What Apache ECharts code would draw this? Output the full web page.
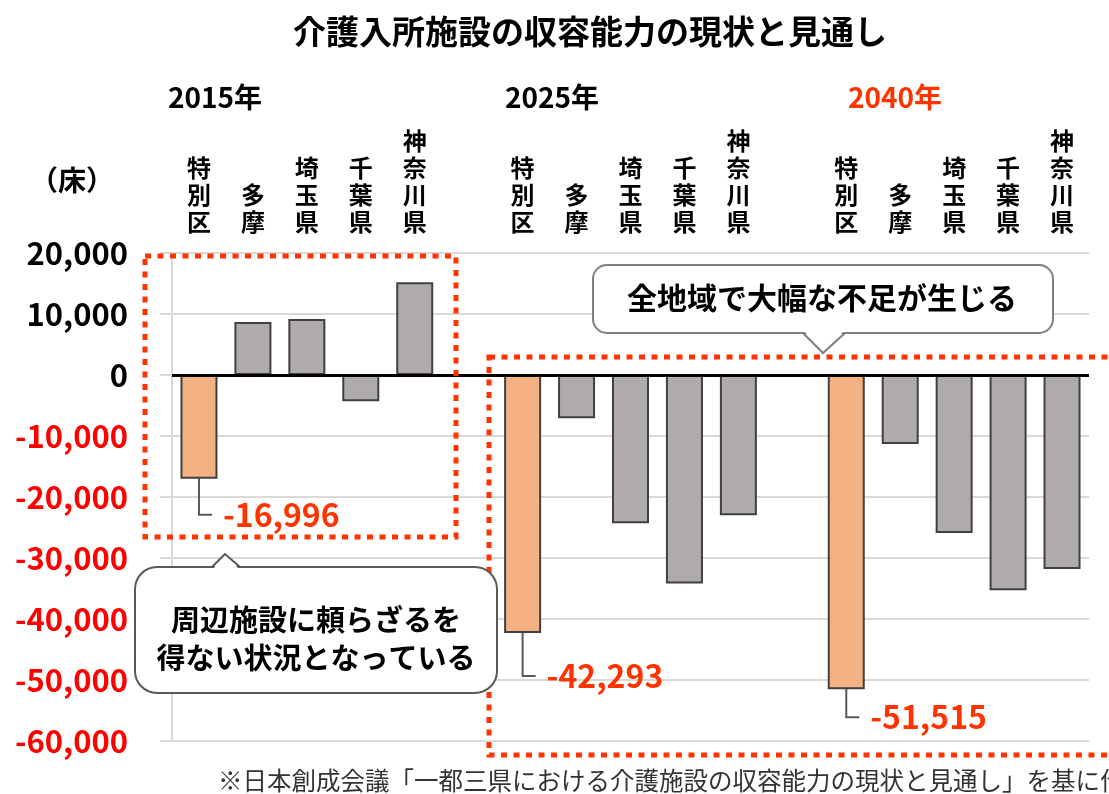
<!DOCTYPE html>
<html lang="ja">
<head>
<meta charset="utf-8">
<title>介護入所施設の収容能力の現状と見通し</title>
<script src="https://cdn.jsdelivr.net/npm/echarts@6/dist/echarts.min.js"></script>
<style>
  html, body { margin: 0; padding: 0; background: #fff; }
  #chart { width: 1109px; height: 794px; }
</style>
</head>
<body>
<div id="chart"></div>
<script>
// 地域と年
const regions = ["特別区", "多摩", "埼玉県", "千葉県", "神奈川県"]
const years = ["2015年", "2025年", "2040年"]

// 病床の過不足（床）
const values2015 = [-16996, 8700, 9200, -4300, 15200]
const values2025 = [-42293, -7100, -24300, -34200, -23000]
const values2040 = [-51515, -11300, -25900, -35300, -31800]

// 縦軸
const yMin = -60000
const yMax = 20000
const yStep = 10000

const FONT = "'Noto Sans CJK JP', 'Noto Sans', sans-serif"
const ORANGE = "#F4B183"
const GRAY = "#AFABAB"
const RED = "#FF3300"

// 3つの年の間に空のカテゴリを挟む
const groups = [values2015, values2025, values2040]
const categories = []
const barData = []
groups.forEach((vals, g) => {
    if (g > 0) {
        categories.push("")
        barData.push("-")
    }
    vals.forEach((v, i) => {
        categories.push(regions[i].split("").join("\n"))
        barData.push({
            value: v,
            itemStyle: { color: i === 0 ? ORANGE : GRAY },
            label: { show: i === 0 },
        })
    })
})

// ラベルの下方向へのずらし量（年ごと）
const labelDrop = [36, 43, 28]

const fmt = v => Number(v).toLocaleString("en-US")

const chart = echarts.init(document.getElementById("chart"))

chart.setOption({
    animation: false,
    backgroundColor: "#fff",
    textStyle: { fontFamily: FONT },
    title: {
        text: "介護入所施設の収容能力の現状と見通し",
        left: 288,
        top: 10,
        textStyle: { fontSize: 33, fontWeight: "bold", color: "#000", fontFamily: FONT },
    },
    grid: { left: 172, right: 20, top: 253, bottom: 53, outerBoundsMode: "none" },
    xAxis: {
        type: "category",
        position: "top",
        data: categories,
        axisLine: { show: false, onZero: false },
        axisTick: { show: false },
        splitLine: { show: false },
        axisLabel: {
            interval: 0,
            margin: 18,
            fontSize: 24,
            lineHeight: 27,
            fontWeight: "bold",
            color: "#000",
            fontFamily: FONT,
        },
    },
    yAxis: {
        type: "value",
        min: yMin,
        max: yMax,
        interval: yStep,
        axisLine: { show: true, lineStyle: { color: "#D9D9D9", width: 2 } },
        axisTick: { show: true, length: 12, lineStyle: { color: "#D9D9D9", width: 2 } },
        splitLine: { show: true, lineStyle: { color: "#D9D9D9", width: 2 } },
        axisLabel: {
            margin: 44,
            fontSize: 31,
            fontWeight: "bold",
            fontFamily: FONT,
            color: v => (v < 0 ? "#FF0000" : "#000"),
            formatter: fmt,
        },
    },
    series: [
        {
            type: "bar",
            data: barData,
            barWidth: 37,
            itemStyle: { borderColor: "#404040", borderWidth: 2 },
            label: {
                position: "bottom",
                formatter: p => `{gap| }{v|${fmt(p.value)}}`,
                rich: {
                    gap: { width: 11 },
                    v: { color: RED, fontSize: 32, fontWeight: "bold", fontFamily: FONT },
                },
            },
            labelLine: { show: true, length2: 13, lineStyle: { color: "#595959", width: 2 } },
            labelLayout: params => ({
                x: params.rect.x + params.rect.width / 2 + 13,
                y: params.rect.y + params.rect.height + labelDrop[Math.floor(params.dataIndex / 6)],
                align: "left",
                verticalAlign: "middle",
            }),
            markLine: {
                silent: true,
                symbol: ["none", "none"],
                label: { show: false },
                lineStyle: { color: "#000", width: 3, type: "solid" },
                data: [{ yAxis: 0 }],
            },
        },
    ],
    graphic: [
        // 年の見出し
        { type: "text", x: 168, y: 97, style: { text: years[0], font: `bold 28px ${FONT}`, fill: "#000", verticalAlign: "middle" } },
        { type: "text", x: 505, y: 97, style: { text: years[1], font: `bold 28px ${FONT}`, fill: "#000", verticalAlign: "middle" } },
        { type: "text", x: 848, y: 97, style: { text: years[2], font: `bold 28px ${FONT}`, fill: RED, verticalAlign: "middle" } },
        // 単位
        { type: "text", x: 30, y: 180, style: { text: "（床）", font: `bold 28px ${FONT}`, fill: "#000", verticalAlign: "middle" } },
        // 点線の枠
        {
            type: "rect", z: 50,
            shape: { x: 145, y: 256, width: 311, height: 281 },
            style: { fill: "none", stroke: RED, lineWidth: 5, lineDash: [6, 6.5] },
        },
        {
            type: "rect", z: 50,
            shape: { x: 489, y: 357, width: 660, height: 398 },
            style: { fill: "none", stroke: RED, lineWidth: 5, lineDash: [6, 6.5] },
        },
        // 吹き出し（上）
        {
            type: "rect", z: 100,
            shape: { x: 593, y: 265, width: 460, height: 68, r: 14 },
            style: { fill: "#fff", stroke: "#7F7F7F", lineWidth: 2 },
        },
        { type: "polygon", z: 101, shape: { points: [[804, 331], [844, 331], [823, 352]] }, style: { fill: "#fff" } },
        { type: "polyline", z: 102, shape: { points: [[803, 333], [823, 353], [845, 333]] }, style: { stroke: "#7F7F7F", lineWidth: 2, fill: null } },
        {
            type: "text", z: 103, x: 822, y: 298,
            style: { text: "全地域で大幅な不足が生じる", font: `bold 30px ${FONT}`, fill: "#000", align: "center", verticalAlign: "middle" },
        },
        // 吹き出し（左下）
        {
            type: "rect", z: 100,
            shape: { x: 135, y: 567, width: 362, height: 126, r: 22 },
            style: { fill: "#fff", stroke: "#595959", lineWidth: 2 },
        },
        { type: "polygon", z: 101, shape: { points: [[213, 569], [239, 569], [225, 555]] }, style: { fill: "#fff" } },
        { type: "polyline", z: 102, shape: { points: [[212, 567], [225, 554], [240, 567]] }, style: { stroke: "#595959", lineWidth: 2, fill: null } },
        {
            type: "text", z: 103, x: 316, y: 639,
            style: { text: "周辺施設に頼らざるを\n得ない状況となっている", font: `bold 29px ${FONT}`, lineHeight: 38, fill: "#000", align: "center", verticalAlign: "middle" },
        },
        // 出典
        {
            type: "text", x: 218, y: 781,
            style: { text: "※日本創成会議「一都三県における介護施設の収容能力の現状と見通し」を基に作成", font: `24.5px ${FONT}`, fill: "#333", verticalAlign: "middle" },
        },
    ],
})
</script>
</body>
</html>
